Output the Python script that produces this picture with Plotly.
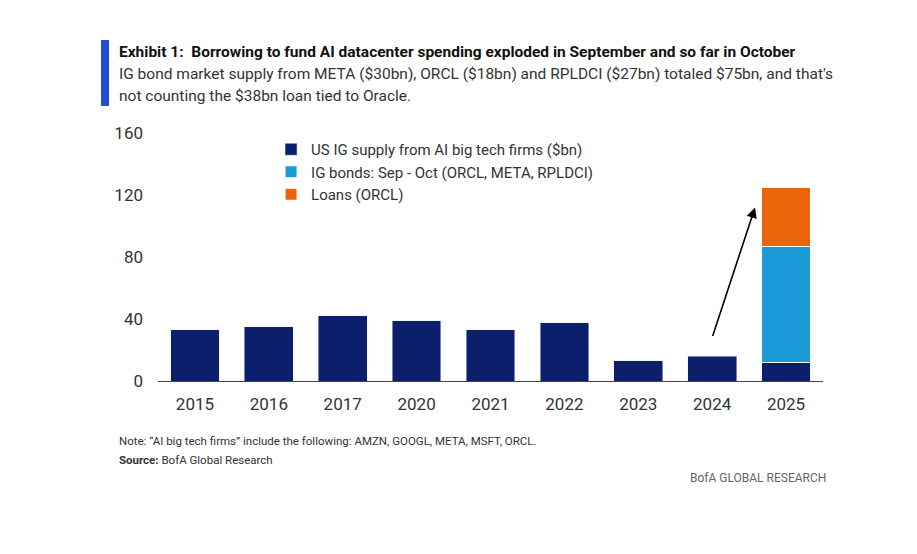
import plotly.graph_objects as go

# data ($bn)
years = ["2015", "2016", "2017", "2020", "2021", "2022", "2023", "2024", "2025"]
us_ig_supply = [33, 35, 42, 39, 33, 37.5, 13, 16, 12]
ig_bonds_sep_oct = [None, None, None, None, None, None, None, None, 75]
loans_orcl = [None, None, None, None, None, None, None, None, 38]
y_ticks = [0, 40, 80, 120, 160]

NAVY = "#0c1f6b"
LIGHT_BLUE = "#1a9bd7"
ORANGE = "#e8650a"
FONT = "Liberation Sans Narrow, Roboto, sans-serif"

fig = go.Figure()
fig.add_trace(go.Bar(x=years, y=us_ig_supply, name="US IG supply from AI big tech firms ($bn)",
                     marker_color=NAVY))
fig.add_trace(go.Bar(x=years, y=ig_bonds_sep_oct, name="IG bonds: Sep - Oct (ORCL, META, RPLDCI)",
                     marker_color=LIGHT_BLUE, marker_line=dict(color="white", width=1)))
fig.add_trace(go.Bar(x=years, y=loans_orcl, name="Loans (ORCL)", marker_color=ORANGE,
                     marker_line=dict(color="white", width=1)))

fig.update_layout(
    width=917, height=554,
    barmode="stack", bargap=0.34,
    plot_bgcolor="white", paper_bgcolor="white",
    margin=dict(l=150, r=102, t=125, b=181),
    font=dict(family=FONT, color="#333333", size=17),
    showlegend=True,
    legend=dict(x=0.17, y=1.0, xanchor="left", yanchor="top", bgcolor="rgba(0,0,0,0)",
                font=dict(size=15, color="#333333"), itemwidth=30, tracegroupgap=0,
                traceorder="normal"),
    xaxis=dict(showline=True, linecolor="#444444", linewidth=1, ticks="", showgrid=False,
               tickfont=dict(size=17), ticklabelstandoff=8),
    yaxis=dict(range=[0, 160], tickvals=y_ticks, showgrid=False, zeroline=False, showline=False,
               ticks="", tickfont=dict(size=17), ticklabelstandoff=14),
)

# arrow from 2024 bar up to 2025 stack
fig.add_annotation(x=7.58, y=112, ax=7.0, ay=28, xref="x", yref="y", axref="x", ayref="y",
                   showarrow=True, arrowhead=2, arrowsize=1.3, arrowwidth=1.6, arrowcolor="black", text="")

fig.add_shape(type="rect", xref="paper", yref="paper", x0=-0.0857, x1=-0.0737, y0=1.109, y1=1.375,
              fillcolor="#1f4fd1", line_width=0)

texts = [
    ("<b>Exhibit 1:  Borrowing to fund AI datacenter spending exploded in September and so far in October</b>",
     -0.062, 1.327, 15.5, "#111111", "left"),
    ("IG bond market supply from META ($30bn), ORCL ($18bn) and RPLDCI ($27bn) totaled $75bn, and that's",
     -0.062, 1.238, 15.5, "#333333", "left"),
    ("not counting the $38bn loan tied to Oracle.", -0.062, 1.149, 15.5, "#333333", "left"),
    ("Note: \u201cAI big tech firms\u201d include the following: AMZN, GOOGL, META, MSFT, ORCL.",
     -0.062, -0.242, 11.5, "#333333", "left"),
    ("<b>Source:</b> BofA Global Research", -0.062, -0.319, 11.5, "#333333", "left"),
    ("BofA GLOBAL RESEARCH", 1.008, -0.391, 12, "#666666", "right"),
]
for t, x, y, s, c, anchor in texts:
    fig.add_annotation(text=t, x=x, y=y, xref="paper", yref="paper", xanchor=anchor, yanchor="middle",
                       showarrow=False, font=dict(size=s, color=c, family=FONT))

fig.write_html("out.html")
